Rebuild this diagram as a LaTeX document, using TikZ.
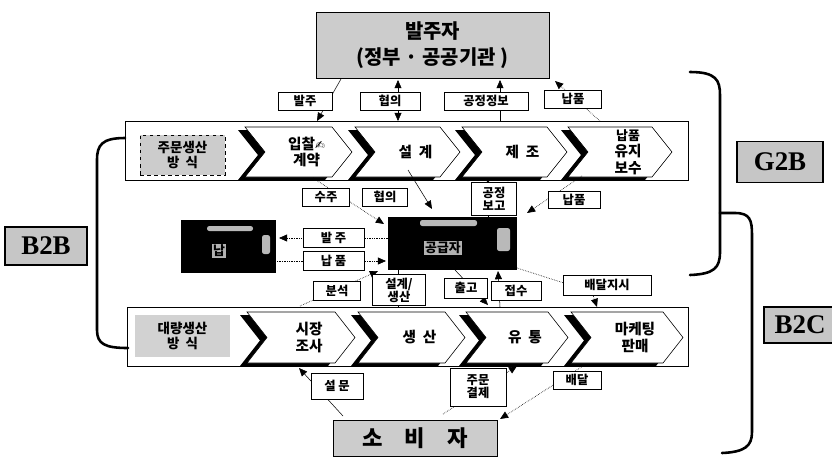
\documentclass[tikz,border=0pt]{standalone}
\usepackage{fontspec}
\setmainfont{Noto Sans CJK KR}
\newfontfamily\dejavu{DejaVu Sans}
\newfontfamily\tnr{Liberation Serif}
\usetikzlibrary{arrows.meta,calc}
\tikzset{
 wh/.style 2 args={minimum width={#1*0.03cm}, minimum height={#2*0.03cm}},
 lbl/.style={draw, fill=white, line width=0.5pt, inner sep=1pt, font=\bfseries\fontsize{10.5}{11}\selectfont, align=center},
 arr/.style={-{Triangle[length=7pt,width=6pt]}, line width=0.45pt},
 dots/.style={densely dotted, line width=0.6pt},
 gbox/.style={draw, fill=gray!40, line width=0.6pt},
 brk/.style={line width=2.2pt, line cap=round},
 tag/.style={draw, line width=1pt, fill=gray!45, inner sep=0pt, font=\tnr\bfseries\fontsize{23}{24}\selectfont},
 chevtxt/.style={font=\bfseries\fontsize{12.5}{14}\selectfont, align=center, inner sep=0pt},
 band/.style={draw, line width=0.6pt, inner sep=0pt},
 blackbox/.style={fill=black, inner sep=0pt},
 hl/.style={fill=gray!55},
 bbtxt/.style={fill=gray!60, inner sep=1pt, font=\bfseries\fontsize{11}{12}\selectfont},
}
\newcommand\mychev[6]{%
 \fill[black] ({#1-7},{#3+3}) -- ({#2-27},{#3+3}) -- ({#2-7},{(#3+#4)/2+3}) -- ({#2-27},{#4+3}) -- ({#1-7},{#4+3}) -- ({#1+13},{(#3+#4)/2+3}) -- cycle;
 \draw[fill=white,line width=0.5pt] (#1,#3) -- ({#2-20},#3) -- (#2,{(#3+#4)/2}) -- ({#2-20},#4) -- (#1,#4) -- ({#1+20},{(#3+#4)/2}) -- cycle;
 \node[chevtxt] (#5) at ({(#1+#2)/2+8},{(#3+#4)/2}) {#6};
}
\begin{document}
\begin{tikzpicture}[x=0.03cm,y=-0.03cm]
\useasboundingbox (0,0) rectangle (832,462);

% owner box
\node[gbox, wh={233}{66}, align=center, font=\bfseries\fontsize{17}{22}\selectfont] (owner) at (432.5,45) {발주자\\(정부 · 공공기관 )};

% band 1
\node[band, wh={563}{59}] (band1) at (406.5,150.5) {};
\node[gbox, dashed, wh={85}{40}, align=center, font=\bfseries\fontsize{11.5}{13}\selectfont] (made) at (182.5,155) {주문생산\\방\ \ 식};
\mychev{245}{352}{127}{177}{ch1}{입찰{\dejavu\fontsize{10}{10}\selectfont ✍}\\계약}
\mychev{355}{460}{127}{177}{ch2}{설\ \ 계}
\mychev{462}{567}{127}{177}{ch3}{제\ \ 조}
\mychev{568}{672}{127}{177}{ch4}{\fontsize{11}{12.5}\selectfont 납품\\유지\\보수}

% band 2
\node[band, wh={561}{59}] (band2) at (407.5,336.5) {};
\node[fill=gray!35, wh={95}{42}, align=center, font=\bfseries\fontsize{11.5}{13}\selectfont] (mass) at (182.5,336) {대량생산\\방\ \ 식};
\mychev{247}{355}{312}{363}{ch5}{시장\\조사}
\mychev{358}{465}{312}{363}{ch6}{생\ \ 산}
\mychev{466}{568}{312}{363}{ch7}{유\ \ 통}
\mychev{571}{683}{312}{363}{ch8}{마케팅\\판매}

% black boxes
\node[blackbox, wh={95}{53}] (sub) at (228.5,246.5) {};
\fill[hl, rounded corners=2pt] (207,226) rectangle (253,231);
\fill[hl, rounded corners=2pt] (262,235) rectangle (270,254);
\node[bbtxt] (subt) at (219,251) {납};
\node[blackbox, wh={129}{53}] (sup) at (452.5,243.5) {};
\fill[hl, rounded corners=2pt] (420,220) rectangle (477,226);
\fill[hl, rounded corners=2pt] (497,228) rectangle (510,251);
\node[bbtxt] (supt) at (443,248) {공급자};

% coordinates for connector ends
\coordinate (a1s) at (341,79);  \coordinate (a1e) at (317,121);
\coordinate (a2s) at (398,80);  \coordinate (a2e) at (398,121);
\coordinate (a3s) at (500,121); \coordinate (a3e) at (500,80);
\coordinate (a4s) at (600,121); \coordinate (a4e) at (555,81);
\coordinate (b1s) at (313,178); \coordinate (b1e) at (384,224);
\coordinate (b2s) at (408,170); \coordinate (b2e) at (432,209);
\coordinate (b3s) at (488,217); \coordinate (b3e) at (488,179);
\coordinate (b4s) at (582,176); \coordinate (b4e) at (527,213);
\coordinate (c1s) at (388,238); \coordinate (c1e) at (279,238);
\coordinate (c2s) at (277,261); \coordinate (c2e) at (386,261);
\coordinate (d1s) at (300,306); \coordinate (d1e) at (378,271);
\coordinate (d2s) at (398,270); \coordinate (d2e) at (398,307);
\coordinate (d3s) at (455,270); \coordinate (d3e) at (488,305);
\coordinate (d4s) at (500,307); \coordinate (d4e) at (498,271);
\coordinate (d5s) at (517,268); \coordinate (d5m) at (592,292); \coordinate (d5e) at (597,307);
\coordinate (e1s) at (343,416); \coordinate (e1e) at (299,368);
\coordinate (e2s) at (443,414); \coordinate (e2e) at (517,366);
\coordinate (e3s) at (583,366); \coordinate (e3e) at (500,419);

% connectors
\draw[arr] (a1s) -- (a1e);
\draw[arr, {Triangle[length=7pt,width=6pt]}-{Triangle[length=7pt,width=6pt]}] (a2s) -- (a2e);
\draw[arr] (a3s) -- (a3e);
\draw[arr, dots] (a4s) -- (a4e);
\draw[arr, dots] (b1s) -- (b1e);
\draw[arr] (b2s) -- (b2e);
\draw[arr] (b3s) -- (b3e);
\draw[arr, dots] (b4s) -- (b4e);
\draw[arr, dots] (c1s) -- (c1e);
\draw[arr, dots] (c2s) -- (c2e);
\draw[arr, dots] (d1s) -- (d1e);
\draw[line width=0.45pt] (d2s) -- (d2e);
\draw[arr] (d3s) -- (d3e);
\draw[arr] (d4s) -- (d4e);
\draw[arr, dots] (d5s) -- (d5m) -- (d5e);
\draw[arr] (e1s) -- (e1e);
\draw[arr, dots] (e2s) -- (e2e);
\draw[arr, dots] (e3s) -- (e3e);

% labels
\node[lbl,wh={54}{18}] (o1) at (305,101) {발주};
\node[lbl,wh={60}{18}] (o2) at (390,101) {협의};
\node[lbl,wh={84}{18}] (o3) at (486,101) {공정정보};
\node[lbl,wh={57}{18}] (o4) at (573,99) {납품};
\node[lbl,wh={47}{18}] (l1) at (326,197) {수주};
\node[lbl,wh={45}{18}] (l2) at (385,197) {협의};
\node[lbl,wh={45}{33}] (l3) at (494,199) {공정\\보고};
\node[lbl,wh={52}{17}] (l4) at (574,200) {납품};
\node[lbl,wh={61}{19}] (m1) at (333.5,237.5) {발\ 주};
\node[lbl,wh={61}{19}] (m2) at (333.5,261) {납\ 품};
\node[lbl,wh={47}{19}] (n1) at (337,291) {분석};
\node[lbl,wh={53}{31}] (n2) at (399,290) {설계/\\생산};
\node[lbl,wh={43}{20}] (n3) at (466,288) {출고};
\node[lbl,wh={50}{19}] (n4) at (516,291) {접수};
\node[lbl,wh={88}{20}] (n5) at (607,285) {배달지시};
\node[lbl,wh={52}{26}] (q1) at (337,386) {설\ 문};
\node[lbl,wh={56}{38}] (q2) at (478,387) {주문\\결제};
\node[lbl,wh={48}{18}] (q3) at (577,380) {배달};

% consumer
\node[gbox, wh={164}{36}, font=\bfseries\fontsize{19}{20}\selectfont] (cons) at (415,438) {소\quad 비\quad 자};

% brackets
\draw[brk] (690,72) .. controls (716,72) and (720,80) .. (720,95) -- (720,252) .. controls (720,268) and (714,274) .. (690,275);
\draw[brk] (720,213) -- (735,213) .. controls (750,213) and (752,220) .. (752,235) -- (752,432) .. controls (752,446) and (745,452) .. (722,453);
\draw[brk] (125,138) .. controls (102,138) and (97,145) .. (97,160) -- (97,330) .. controls (97,344) and (105,348) .. (128,348);

% tags
\node[tag, wh={86}{41}] (g2b) at (780,162) {G2B};
\node[tag, wh={82}{38}] (b2b) at (46,246) {B2B};
\node[tag, wh={72}{36}] (b2c) at (800,325) {B2C};
\end{tikzpicture}
\end{document}
